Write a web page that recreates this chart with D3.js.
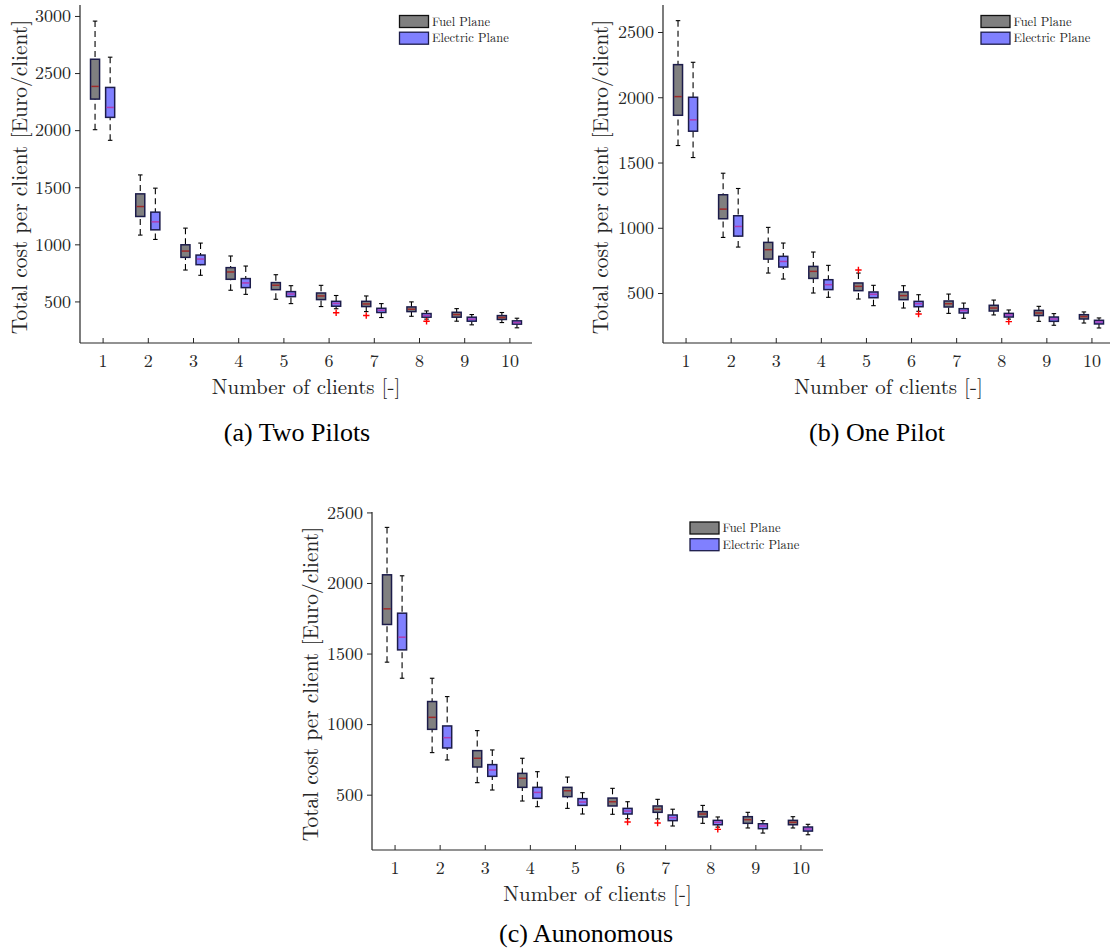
<!DOCTYPE html>
<html>
<head>
<meta charset="utf-8">
<script src="https://cdn.jsdelivr.net/npm/d3@7"></script>
<style>
  html, body { margin: 0; padding: 0; background: #fff; }
  svg { display: block; }
</style>
</head>
<body>
<svg id="chart" width="1110" height="951"></svg>
<script>
// ---------------- DATA ----------------
const clients = [1, 2, 3, 4, 5, 6, 7, 8, 9, 10];
const seriesNames = ["Fuel Plane", "Electric Plane"];

// Panel (a) Two Pilots
const twoFuelLow  = [2004, 1081, 775, 598, 519, 455, 411, 370, 327, 315];
const twoFuelQ1   = [2272, 1244, 886, 694, 603, 516, 455, 411, 362, 342];
const twoFuelMed  = [2383, 1331, 941, 758, 642, 548, 478, 432, 385, 359];
const twoFuelQ3   = [2621, 1442, 996, 796, 665, 574, 501, 452, 405, 376];
const twoFuelHigh = [2955, 1608, 1142, 898, 734, 641, 548, 496, 437, 403];
const twoElecLow  = [1911, 1043, 729, 562, 481, 436, 359, 345, 295, 269];
const twoElecQ1   = [2112, 1127, 822, 621, 542, 458, 403, 362, 327, 301];
const twoElecMed  = [2199, 1197, 871, 662, 565, 482, 423, 376, 345, 315];
const twoElecQ3   = [2374, 1282, 906, 700, 586, 501, 440, 394, 362, 330];
const twoElecHigh = [2639, 1492, 1011, 810, 638, 552, 481, 417, 385, 353];
const twoFuelOutX = [7];   const twoFuelOutY = [377];
const twoElecOutX = [6, 8]; const twoElecOutY = [401, 327];

// Panel (b) One Pilot
const oneFuelLow  = [1630, 926, 653, 500, 454, 385, 344, 332, 283, 270];
const oneFuelQ1   = [1862, 1069, 760, 612, 518, 449, 393, 362, 327, 301];
const oneFuelMed  = [2005, 1143, 832, 666, 551, 480, 418, 385, 347, 319];
const oneFuelQ3   = [2250, 1253, 888, 704, 577, 508, 439, 406, 367, 334];
const oneFuelHigh = [2587, 1418, 1003, 814, 653, 556, 492, 446, 398, 355];
const oneElecLow  = [1538, 852, 607, 467, 403, 360, 306, 300, 253, 232];
const oneElecQ1   = [1740, 936, 699, 526, 464, 395, 347, 316, 283, 263];
const oneElecMed  = [1827, 1010, 742, 564, 490, 418, 365, 332, 301, 278];
const oneElecQ3   = [2000, 1092, 781, 602, 508, 436, 380, 344, 316, 291];
const oneElecHigh = [2268, 1301, 883, 712, 559, 487, 423, 370, 342, 309];
const oneFuelOutX = [5];   const oneFuelOutY = [676];
const oneElecOutX = [6, 8]; const oneElecOutY = [339, 281];

// Panel (c) Autonomous
const autFuelLow  = [1439, 798, 585, 455, 403, 361, 328, 297, 264, 264];
const autFuelQ1   = [1706, 963, 696, 552, 486, 420, 375, 342, 297, 287];
const autFuelMed  = [1817, 1048, 758, 616, 528, 450, 397, 363, 323, 304];
const autFuelQ3   = [2058, 1160, 812, 651, 552, 476, 420, 380, 344, 318];
const autFuelHigh = [2394, 1325, 954, 758, 625, 545, 467, 424, 375, 344];
const autElecLow  = [1325, 746, 533, 415, 363, 330, 278, 270, 228, 216];
const autElecQ1   = [1526, 831, 630, 474, 424, 363, 316, 287, 259, 242];
const autElecMed  = [1616, 904, 675, 516, 448, 384, 337, 304, 278, 257];
const autElecQ3   = [1786, 987, 713, 552, 472, 403, 356, 318, 294, 271];
const autElecHigh = [2051, 1195, 817, 663, 514, 450, 397, 342, 316, 290];
const autFuelOutX = [7];   const autFuelOutY = [299];
const autElecOutX = [6, 8]; const autElecOutY = [306, 254];

const twoYTicks = [500, 1000, 1500, 2000, 2500, 3000];
const oneYTicks = [500, 1000, 1500, 2000, 2500];
const autYTicks = [500, 1000, 1500, 2000, 2500];

const xLabel = "Number of clients [-]";
const yLabel = "Total cost per client [Euro/client]";
const captions = ["(a) Two Pilots", "(b) One Pilot", "(c) Aunonomous"];

// ---------------- STYLE / LAYOUT ----------------
const FONT = "'Latin Modern Roman','CMU Serif','Liberation Serif','Times New Roman',serif";
const AXIS_COLOR = "#262626";
const FUEL_FILL = "#808080";
const ELEC_FILL = "#8080ff";
const BOX_STROKE = "#1c1c4a";
const FUEL_MED = "#9e2a2a";
const ELEC_MED = "#b03cb0";

const svg = d3.select("#chart");

function makeStats(low, q1, med, q3, high) {
  return clients.map((c, i) => ({ c, low: low[i], q1: q1[i], med: med[i], q3: q3[i], high: high[i] }));
}

const panels = [
  {
    xr: [80, 532], yr: [343, 5], yd: [136, 3096], yTicks: twoYTicks,
    fuel: makeStats(twoFuelLow, twoFuelQ1, twoFuelMed, twoFuelQ3, twoFuelHigh),
    elec: makeStats(twoElecLow, twoElecQ1, twoElecMed, twoElecQ3, twoElecHigh),
    fuelOut: twoFuelOutX.map((x, i) => [x, twoFuelOutY[i]]),
    elecOut: twoElecOutX.map((x, i) => [x, twoElecOutY[i]]),
    legendX: 399.5, legendY: 15.5, ylabX: 27, caption: captions[0], capX: 297, capY: 441
  },
  {
    xr: [663, 1114], yr: [343, 5], yd: [117, 2707], yTicks: oneYTicks,
    fuel: makeStats(oneFuelLow, oneFuelQ1, oneFuelMed, oneFuelQ3, oneFuelHigh),
    elec: makeStats(oneElecLow, oneElecQ1, oneElecMed, oneElecQ3, oneElecHigh),
    fuelOut: oneFuelOutX.map((x, i) => [x, oneFuelOutY[i]]),
    elecOut: oneElecOutX.map((x, i) => [x, oneElecOutY[i]]),
    legendX: 981, legendY: 15.5, ylabX: 608, caption: captions[1], capX: 877, capY: 441
  },
  {
    xr: [372, 823], yr: [850, 512], yd: [108, 2503], yTicks: autYTicks,
    fuel: makeStats(autFuelLow, autFuelQ1, autFuelMed, autFuelQ3, autFuelHigh),
    elec: makeStats(autElecLow, autElecQ1, autElecMed, autElecQ3, autElecHigh),
    fuelOut: autFuelOutX.map((x, i) => [x, autFuelOutY[i]]),
    elecOut: autElecOutX.map((x, i) => [x, autElecOutY[i]]),
    legendX: 690, legendY: 522, ylabX: 318, caption: captions[2], capX: 586, capY: 942
  }
];

function drawPanel(p) {
  const x = d3.scaleLinear().domain([0.5, 10.5]).range(p.xr);
  const y = d3.scaleLinear().domain(p.yd).range(p.yr);
  const g = svg.append("g");
  const step = x(2) - x(1);
  const boxW = step * 0.2;
  const offset = step * 0.167;
  const capW = boxW * 0.5;

  // axes
  const xAxis = d3.axisBottom(x).tickValues(clients).tickSize(-5).tickPadding(11).tickFormat(d3.format("d"));
  const gx = g.append("g").attr("transform", `translate(0,${p.yr[0]})`).call(xAxis);
  const yAxis = d3.axisLeft(y).tickValues(p.yTicks).tickSize(5).tickPadding(4).tickFormat(d3.format("d"));
  const gy = g.append("g").attr("transform", `translate(${p.xr[0]},0)`).call(yAxis);
  [gx, gy].forEach(a => {
    a.select(".domain").attr("stroke", AXIS_COLOR).attr("stroke-width", 1.2)
      .attr("d", a === gx ? `M${p.xr[0]},0H${p.xr[1]}` : `M0,${p.yr[0]}V${p.yr[1]}`);
    a.selectAll(".tick line").attr("stroke", AXIS_COLOR).attr("stroke-width", 1);
    a.selectAll(".tick text").attr("fill", AXIS_COLOR).style("font-family", FONT).style("font-size", "18px");
  });
  gx.selectAll(".tick text").attr("dy", "0.71em");

  // labels
  g.append("text")
    .attr("x", (p.xr[0] + p.xr[1]) / 2).attr("y", p.yr[0] + 51)
    .attr("text-anchor", "middle").attr("fill", AXIS_COLOR)
    .style("font-family", FONT).style("font-size", "21px").text(xLabel);
  const ymid = (p.yr[0] + p.yr[1]) / 2 + 3;
  g.append("text")
    .attr("transform", `translate(${p.ylabX},${ymid}) rotate(-90)`)
    .attr("text-anchor", "middle").attr("fill", AXIS_COLOR)
    .style("font-family", FONT).style("font-size", "21.4px").text(yLabel);

  // caption
  g.append("text").attr("x", p.capX).attr("y", p.capY).attr("text-anchor", "middle")
    .attr("fill", "#000").style("font-family", "'Liberation Serif','Times New Roman',serif")
    .style("font-size", "26px").text(p.caption);

  // boxes
  function drawBoxes(stats, dx, fill, medColor) {
    const bg = g.append("g");
    const sel = bg.selectAll("g.box").data(stats).join("g").attr("class", "box");
    sel.append("line")
      .attr("x1", d => x(d.c) + dx).attr("x2", d => x(d.c) + dx)
      .attr("y1", d => y(d.high)).attr("y2", d => y(d.q3))
      .attr("stroke", "#000").attr("stroke-width", 1.1).attr("stroke-dasharray", "6,4");
    sel.append("line")
      .attr("x1", d => x(d.c) + dx).attr("x2", d => x(d.c) + dx)
      .attr("y1", d => y(d.low)).attr("y2", d => y(d.q1))
      .attr("stroke", "#000").attr("stroke-width", 1.1).attr("stroke-dasharray", "6,4");
    ["high", "low"].forEach(k => {
      sel.append("line")
        .attr("x1", d => x(d.c) + dx - capW / 2).attr("x2", d => x(d.c) + dx + capW / 2)
        .attr("y1", d => y(d[k])).attr("y2", d => y(d[k]))
        .attr("stroke", "#000").attr("stroke-width", 1.1);
    });
    sel.append("rect")
      .attr("x", d => x(d.c) + dx - boxW / 2).attr("width", boxW)
      .attr("y", d => y(d.q3)).attr("height", d => y(d.q1) - y(d.q3))
      .attr("fill", fill).attr("stroke", BOX_STROKE).attr("stroke-width", 1.5);
    sel.append("line")
      .attr("x1", d => x(d.c) + dx - boxW / 2 + 0.8).attr("x2", d => x(d.c) + dx + boxW / 2 - 0.8)
      .attr("y1", d => y(d.med)).attr("y2", d => y(d.med))
      .attr("stroke", medColor).attr("stroke-width", 1.5);
  }
  drawBoxes(p.fuel, -offset, FUEL_FILL, FUEL_MED);
  drawBoxes(p.elec, offset, ELEC_FILL, ELEC_MED);

  // outliers
  function drawOut(pts, dx) {
    const s = 3.2;
    g.append("g").selectAll("path").data(pts).join("path")
      .attr("d", d => {
        const cx = x(d[0]) + dx, cy = y(d[1]);
        return `M${cx - s},${cy}H${cx + s}M${cx},${cy - s}V${cy + s}`;
      })
      .attr("stroke", "#ff0000").attr("stroke-width", 1.4).attr("fill", "none");
  }
  drawOut(p.fuelOut, -offset);
  drawOut(p.elecOut, offset);

  // legend
  const lg = g.append("g").attr("transform", `translate(${p.legendX},${p.legendY})`);
  const fills = [FUEL_FILL, ELEC_FILL];
  const strokes = ["#111", BOX_STROKE];
  seriesNames.forEach((name, i) => {
    lg.append("rect").attr("x", 0).attr("y", i * 16.7).attr("width", 29).attr("height", 12)
      .attr("fill", fills[i]).attr("stroke", strokes[i]).attr("stroke-width", 1.3);
    lg.append("text").attr("x", 32.5).attr("y", i * 16.7 + 10)
      .attr("fill", AXIS_COLOR).style("font-family", FONT).style("font-size", "12.5px")
      .text(name);
  });
}

panels.forEach(drawPanel);
</script>
</body>
</html>
